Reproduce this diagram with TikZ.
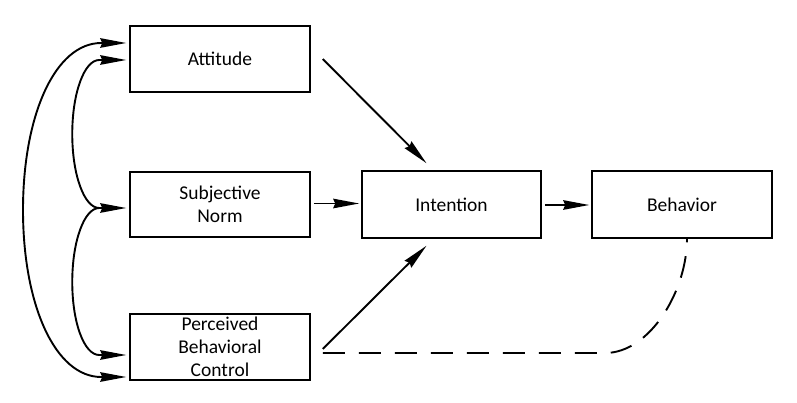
\documentclass[tikz,border=0pt]{standalone}
\usepackage{fontspec}
\setmainfont{Carlito}
\usetikzlibrary{arrows.meta,calc}
\begin{document}
\begin{tikzpicture}[x=1pt,y=-1pt,
  box/.style={draw,line width=1.5pt,minimum width=180pt,minimum height=66pt,inner sep=0pt,
    align=center,font=\fontsize{19.5}{23}\selectfont},
  conn/.style={line width=1.9pt,-{Stealth[length=26pt,width=9.5pt,inset=2pt]}},
  biconn/.style={line width=1.9pt,{Stealth[length=26pt,width=9.5pt,inset=2pt]}-{Stealth[length=26pt,width=9.5pt,inset=2pt]}},
  dashconn/.style={line width=1.9pt,dash pattern=on 22pt off 14pt}]
\useasboundingbox (0,0) rectangle (797,403);
\node[box] (att) at (220,59) {Attitude};
\node[box,minimum height=65pt] (sn) at (220,204.5) {Subjective\\Norm};
\node[box] (pbc) at (220,347) {Perceived\\Behavioral\\Control};
\node[box,minimum width=179pt,minimum height=67pt] (int) at (451.5,204.5) {Intention};
\node[box,minimum height=67pt] (beh) at (682,204.5) {Behavior};
% left correlations
\coordinate (j) at ($(sn.west)+(-30,3.5)$);
\draw[conn] (j) -- ($(sn.west)+(-3,3.5)$);
\draw[conn] (j) .. controls ($(j)+(-15,0)$) and ($(j)+(-27,-33)$) .. ($(j)+(-27,-74)$)
  .. controls ($(j)+(-27,-115)$) and ($(j)+(-15,-148)$) .. ($(j)+(0,-148)$) -- ($(att.west)+(-3,1)$);
\draw[conn] (j) .. controls ($(j)+(-15,0)$) and ($(j)+(-27,33)$) .. ($(j)+(-27,74)$)
  .. controls ($(j)+(-27,115)$) and ($(j)+(-15,147)$) .. ($(j)+(0,147)$) -- ($(pbc.west)+(-3,8)$);
\draw[biconn] ($(att.west)+(-3,-16)$) -- ($(att.west)+(-28,-16)$)
  .. controls ($(att.west)+(-74,-16)$) and (23,115) .. (23,210)
  .. controls (23,305) and ($(pbc.west)+(-74,30)$) .. ($(pbc.west)+(-28,30)$) -- ($(pbc.west)+(-3,30)$);
% paths to intention
\draw[conn] ($(att.east)+(12,0)$) -- ($(int.north)+(-25,-7)$);
\draw[conn] ($(sn.east)+(3,-1)$) -- ($(int.west)+(-2,-1)$);
\draw[conn] ($(pbc.east)+(12,2)$) -- ($(int.south)+(-25,7)$);
\draw[conn] ($(int.east)+(3,0.5)$) -- ($(beh.west)+(-2,0.5)$);
% dashed PBC -> behavior
\draw[dashconn] ($(pbc.east)+(12,6)$) -- (605,353)
  .. controls (650,353) and ($(beh.south)+(5,52)$) .. ($(beh.south)+(5,0)$);
\end{tikzpicture}
\end{document}
